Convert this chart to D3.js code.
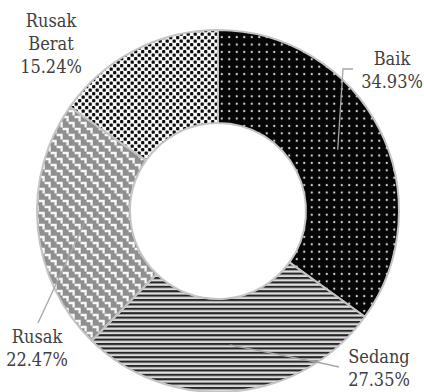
<!DOCTYPE html>
<html>
<head>
<meta charset="utf-8">
<script src="https://cdn.jsdelivr.net/npm/d3@7/dist/d3.min.js"></script>
<style>
  html, body { margin: 0; padding: 0; background: #fff; }
  svg { display: block; }
</style>
</head>
<body>
<svg id="chart" width="424" height="392"></svg>
<script>
// Kondisi: share of each condition class
const categories = ["Baik", "Sedang", "Rusak", "Rusak Berat"];
const shares = [34.93, 27.35, 22.47, 15.24];
const shareLabels = ["34.93%", "27.35%", "22.47%", "15.24%"];

// Layout
const W = 424, H = 392;
const cx = 218, cy = 211;
const outerR = 181, innerR = 88;
const fontFamily = "DejaVu Serif Condensed, DejaVu Serif, serif";
const fontSize = 18, lineGap = 23;
const textColor = "#404040";
const leaderColor = "#a6a6a6";

// Label anchor (first baseline, centre x) and leader start per slice
const labelLayout = [
  { x: 392, y: 65, lines: ["Baik"], leader: [[353, 69], [343, 69]] },
  { x: 379, y: 363, lines: ["Sedang"], leader: [[339, 367], [321, 363]] },
  { x: 37, y: 343, lines: ["Rusak"], leader: [[38, 323]] },
  { x: 51, y: 27, lines: ["Rusak", "Berat"], leader: null }
];

const svg = d3.select("#chart");
const defs = svg.append("defs");

// Baik: black with a grid of small light dots
const pBaik = defs.append("pattern").attr("id", "pat-baik")
  .attr("patternUnits", "userSpaceOnUse").attr("width", 7.5).attr("height", 7.4);
pBaik.append("rect").attr("width", 7.5).attr("height", 7.4).attr("fill", "#050505");
pBaik.append("circle").attr("cx", 3.75).attr("cy", 3.7).attr("r", 1.1).attr("fill", "#d8d8d8");

// Sedang: horizontal dark stripes
const pSed = defs.append("pattern").attr("id", "pat-sedang")
  .attr("patternUnits", "userSpaceOnUse").attr("width", 8).attr("height", 4.4);
pSed.append("rect").attr("width", 8).attr("height", 4.4).attr("fill", "#dcdcdc");
pSed.append("rect").attr("y", 0).attr("width", 8).attr("height", 2.1).attr("fill", "#262626");

// Rusak: grey weave of separate white step shapes
const pRus = defs.append("pattern").attr("id", "pat-rusak")
  .attr("patternUnits", "userSpaceOnUse").attr("width", 12).attr("height", 12);
pRus.append("rect").attr("width", 12).attr("height", 12).attr("fill", "#8f8f8f");
const weave = pRus.append("g").attr("fill", "none").attr("stroke", "#f7f7f7")
  .attr("stroke-width", 2.3).attr("stroke-linecap", "butt");
[[0, 0], [6, 6], [-6, 6], [6, -6], [-6, -6], [12, 0], [0, 12], [-12, 0], [0, -12]].forEach(([dx, dy]) => {
  weave.append("path").attr("d", `M${0.6 + dx},${2 + dy} H${5.6 + dx} V${6.4 + dy}`);
});

// Rusak Berat: white with a staggered grid of black dots
const pRB = defs.append("pattern").attr("id", "pat-rb")
  .attr("patternUnits", "userSpaceOnUse").attr("width", 7).attr("height", 7);
pRB.append("rect").attr("width", 7).attr("height", 7).attr("fill", "#fafafa");
pRB.append("rect").attr("x", 0.1).attr("y", 0.1).attr("width", 3.2).attr("height", 3.2)
  .attr("rx", 0.9).attr("fill", "#0d0d0d");
pRB.append("rect").attr("x", 3.6).attr("y", 3.6).attr("width", 3.2).attr("height", 3.2)
  .attr("rx", 0.9).attr("fill", "#0d0d0d");

const fills = ["url(#pat-baik)", "url(#pat-sedang)", "url(#pat-rusak)", "url(#pat-rb)"];

const pie = d3.pie().sort(null).value(d => d.value);
const arcs = pie(categories.map((c, i) => ({ name: c, value: shares[i], i })));
const arc = d3.arc().innerRadius(innerR).outerRadius(outerR);

const g = svg.append("g").attr("transform", `translate(${cx},${cy})`);

g.selectAll("path.slice")
  .data(arcs)
  .join("path")
  .attr("class", "slice")
  .attr("d", arc)
  .attr("fill", (d, i) => fills[i])
  .attr("stroke", "#c4c4c4")
  .attr("stroke-width", 2)
  .attr("stroke-linejoin", "round");

// Leader lines from labels to slice centroids
arcs.forEach((d, i) => {
  const L = labelLayout[i];
  if (!L.leader) return;
  const c = arc.centroid(d);
  const pts = L.leader.concat([[cx + c[0], cy + c[1]]]);
  svg.append("path")
    .attr("d", d3.line()(pts))
    .attr("fill", "none")
    .attr("stroke", leaderColor)
    .attr("stroke-width", 1.3);
});

// Labels
arcs.forEach((d, i) => {
  const L = labelLayout[i];
  const lines = L.lines.concat([shareLabels[i]]);
  const t = svg.append("text")
    .attr("x", L.x).attr("y", L.y)
    .attr("font-family", fontFamily)
    .attr("font-stretch", "condensed")
    .attr("font-size", fontSize)
    .attr("fill", textColor)
    .attr("text-anchor", "middle");
  lines.forEach((s, k) => {
    t.append("tspan").attr("x", L.x).attr("dy", k === 0 ? 0 : lineGap).text(s);
  });
});
</script>
</body>
</html>
